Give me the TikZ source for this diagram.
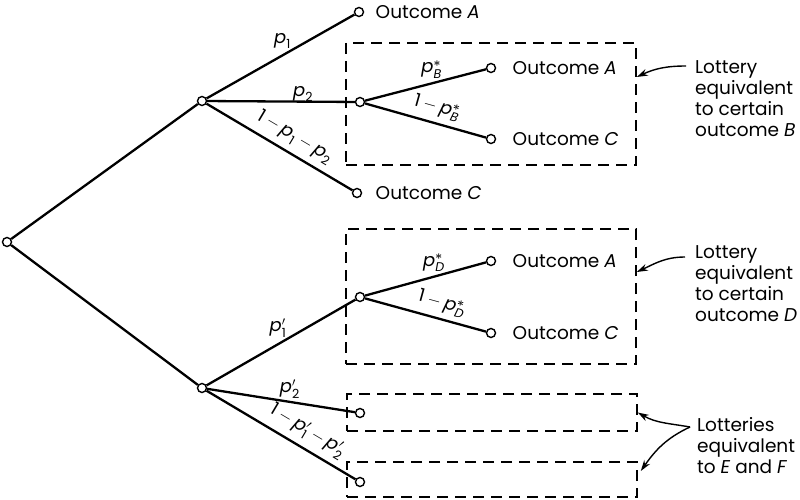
\documentclass[tikz,border=0pt]{standalone}
\usepackage{amsmath,bm}
\usepackage{fontspec}
\setmainfont{Poppins}
\usetikzlibrary{arrows.meta,positioning}

\newcommand{\pv}{\textit{p}}
\newcommand{\iv}[1]{\textit{#1}}
\newcommand{\nv}[1]{\textup{#1}}
\newcommand{\st}{\bm{\ast}}

\tikzset{
  dot/.style={circle,draw,fill=white,line width=1.4pt,inner sep=0pt,minimum size=9pt},
  branch/.style={line width=2.3pt},
  lotbox/.style={draw,line width=1.6pt,dash pattern=on 11pt off 7pt,minimum width=290pt},
  outtext/.style={anchor=west,font=\fontsize{18.5}{21}\selectfont},
  note/.style={anchor=north west,align=left,inner sep=0pt,font=\fontsize{18.5}{21}\selectfont},
  plab/.style={font=\fontsize{18}{20}\selectfont,inner sep=2pt},
  pointer/.style={line width=1.4pt,-{Stealth[length=11pt,width=7pt]}},
}

\begin{document}
\begin{tikzpicture}[x=1pt,y=-1pt]
  \useasboundingbox (0,0) rectangle (800,500);
  % lottery boxes
  \node[lotbox,minimum height=122pt] (boxB) at (491,104) {};
  \node[lotbox,minimum height=135pt] (boxD) at (491,296.5) {};
  \node[lotbox,minimum height=37pt] (boxE) at (492,412.5) {};
  \node[lotbox,minimum height=35pt] (boxF) at (492,479.5) {};
  % chance points
  \node[dot] (root) at (7,242) {};
  \node[dot] (up) at (202,101) {};
  \node[dot] (lo) at (202,388) {};
  \node[dot] (oA) at (359,12) {};
  \node[dot] (bB) at (360,102) {};
  \node[dot] (oC) at (357,193) {};
  \node[dot] (bA) at (491,68) {};
  \node[dot] (bC) at (491,139) {};
  \node[dot] (dD) at (360,297) {};
  \node[dot] (dA) at (491,261) {};
  \node[dot] (dC) at (491,333) {};
  \node[dot] (eE) at (360,413) {};
  \node[dot] (fF) at (360,482) {};
  % branches
  \draw[branch] (root) -- (up);
  \draw[branch] (root) -- (lo);
  \draw[branch] (up) -- node[plab,midway,above,xshift=2pt,yshift=5pt] {$\pv_{\nv{1}}$} (oA);
  \draw[branch] (up) -- node[plab,pos=0.65,above,yshift=-3pt] {$\pv_{\nv{2}}$} (bB);
  \draw[branch] (up) -- node[plab,pos=0.55,sloped,above=4pt] {$\nv{1}-\pv_{\nv{1}}-\pv_{\nv{2}}$} (oC);
  \draw[branch] (bB) -- node[plab,pos=0.55,above,yshift=2pt] {$\pv^{\st}_{\iv{B}}$} (bA);
  \draw[branch] (bB) -- node[plab,pos=0.56,sloped,above=3pt] {$\nv{1}-\pv^{\st}_{\iv{B}}$} (bC);
  \draw[branch] (lo) -- node[plab,midway,above,xshift=-3pt,yshift=2pt] {$\pv'_{\nv{1}}$} (dD);
  \draw[branch] (dD) -- node[plab,pos=0.57,above,yshift=2pt] {$\pv^{\st}_{\iv{D}}$} (dA);
  \draw[branch] (dD) -- node[plab,pos=0.6,sloped,above=3pt] {$\nv{1}-\pv^{\st}_{\iv{D}}$} (dC);
  \draw[branch] (lo) -- node[plab,pos=0.56,above] {$\pv'_{\nv{2}}$} (eE);
  \draw[branch] (lo) -- node[plab,pos=0.62,sloped,above=4pt] {$\nv{1}-\pv'_{\nv{1}}-\pv'_{\nv{2}}$} (fF);
  % outcomes
  \node[outtext,right=8pt of oA] {Outcome \iv{A}};
  \node[outtext,right=10pt of oC] {Outcome \iv{C}};
  \node[outtext,right=13pt of bA] {Outcome \iv{A}};
  \node[outtext,right=13pt of bC] {Outcome \iv{C}};
  \node[outtext,right=13pt of dA] {Outcome \iv{A}};
  \node[outtext,right=13pt of dC] {Outcome \iv{C}};
  % notes
  \node[note] (noteB) at (695,60) {Lottery\\equivalent\\to certain\\outcome \iv{B}};
  \node[note] (noteD) at (695,245) {Lottery\\equivalent\\to certain\\outcome \iv{D}};
  \node[note] (noteEF) at (697,417) {Lotteries\\equivalent\\to \iv{E} and \iv{F}};
  \draw[pointer] ([xshift=-9pt,yshift=-6pt]noteB.north west) to[out=180,in=25] ([yshift=27pt]boxB.east);
  \draw[pointer] ([xshift=-10pt,yshift=-12pt]noteD.north west) to[out=180,in=25] ([yshift=24.5pt]boxD.east);
  \draw[pointer] ([xshift=-7pt,yshift=-10pt]noteEF.north west) to[out=170,in=-30] (boxE.east);
  \draw[pointer] ([xshift=-7pt,yshift=-10pt]noteEF.north west) to[out=205,in=55] ([xshift=3pt,yshift=8.5pt]boxF.east);
\end{tikzpicture}
\end{document}
